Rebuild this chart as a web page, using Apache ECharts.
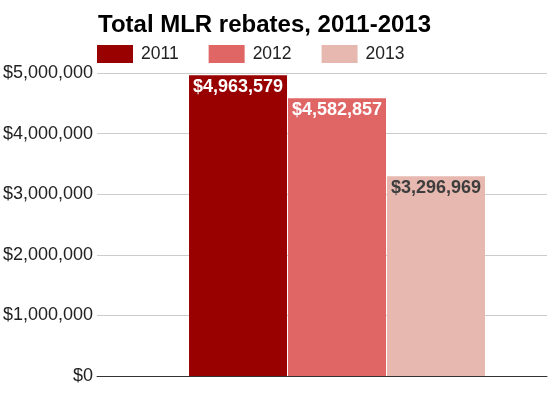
<!DOCTYPE html>
<html>
<head>
<meta charset="utf-8">
<script src="https://cdn.jsdelivr.net/npm/echarts@6/dist/echarts.min.js"></script>
<style>html,body{margin:0;padding:0;background:#fff;}#c{width:552px;height:399px;}</style>
</head>
<body>
<div id="c"></div>
<script>
var categories = ['Total'];
var seriesNames = ['2011', '2012', '2013'];
var values2011 = [4963579];
var values2012 = [4582857];
var values2013 = [3296969];
var yTicks = [0, 1000000, 2000000, 3000000, 4000000, 5000000];
var colors = ['#990000', '#e06666', '#e6b8af'];
var labelColors = ['#ffffff', '#ffffff', '#3d3d3d'];

function money(v) {
  return '$' + String(Math.round(v)).replace(/\B(?=(\d{3})+(?!\d))/g, ',');
}

var font = 'Liberation Sans, Arial, sans-serif';
var allData = [values2011, values2012, values2013];
var series = seriesNames.map(function (n, i) {
  return {
    name: n,
    type: 'bar',
    xAxisIndex: 1,
    yAxisIndex: 1,
    data: allData[i],
    barWidth: 98,
    barGap: '1%',
    itemStyle: { color: colors[i] },
    label: {
      show: true,
      position: 'insideTop',
      distance: 3,
      color: labelColors[i],
      fontFamily: font,
      fontWeight: 'bold',
      fontSize: 18,
      formatter: function (p) { return money(p.value); }
    }
  };
});

var chart = echarts.init(document.getElementById('c'), null, { renderer: 'canvas' });
chart.setOption({
  animation: false,
  backgroundColor: '#ffffff',
  title: {
    text: 'Total MLR rebates, 2011-2013',
    left: 93,
    top: 8,
    textStyle: { fontFamily: font, fontWeight: 'bold', fontSize: 24, color: '#000000' }
  },
  legend: {
    data: seriesNames,
    left: 97,
    top: 45,
    padding: 0,
    itemWidth: 36,
    itemHeight: 18,
    itemGap: 30,
    icon: 'rect',
    textStyle: { fontFamily: font, fontSize: 17.5, color: '#222222', padding: [0, 0, 0, 3] }
  },
  grid: [
    { left: 97, right: 5, top: 73, bottom: 23 },
    { left: 127, right: 5, top: 73, bottom: 23 }
  ],
  xAxis: [
    { type: 'category', gridIndex: 0, data: categories,
      axisLine: { show: true, lineStyle: { color: '#333333', width: 1 } },
      axisTick: { show: false }, axisLabel: { show: false } },
    { type: 'category', gridIndex: 1, data: categories,
      axisLine: { show: false }, axisTick: { show: false }, axisLabel: { show: false } }
  ],
  yAxis: [
    { type: 'value', gridIndex: 0, min: yTicks[0], max: yTicks[yTicks.length - 1], interval: 1000000,
      axisLine: { show: false }, axisTick: { show: false },
      splitLine: { lineStyle: { color: '#cccccc', width: 1 } },
      axisLabel: { margin: 4, fontFamily: font, fontSize: 18, color: '#222222', formatter: money } },
    { type: 'value', gridIndex: 1, min: yTicks[0], max: yTicks[yTicks.length - 1], interval: 1000000,
      show: false, splitLine: { show: false } }
  ],
  series: series
});
</script>
</body>
</html>
